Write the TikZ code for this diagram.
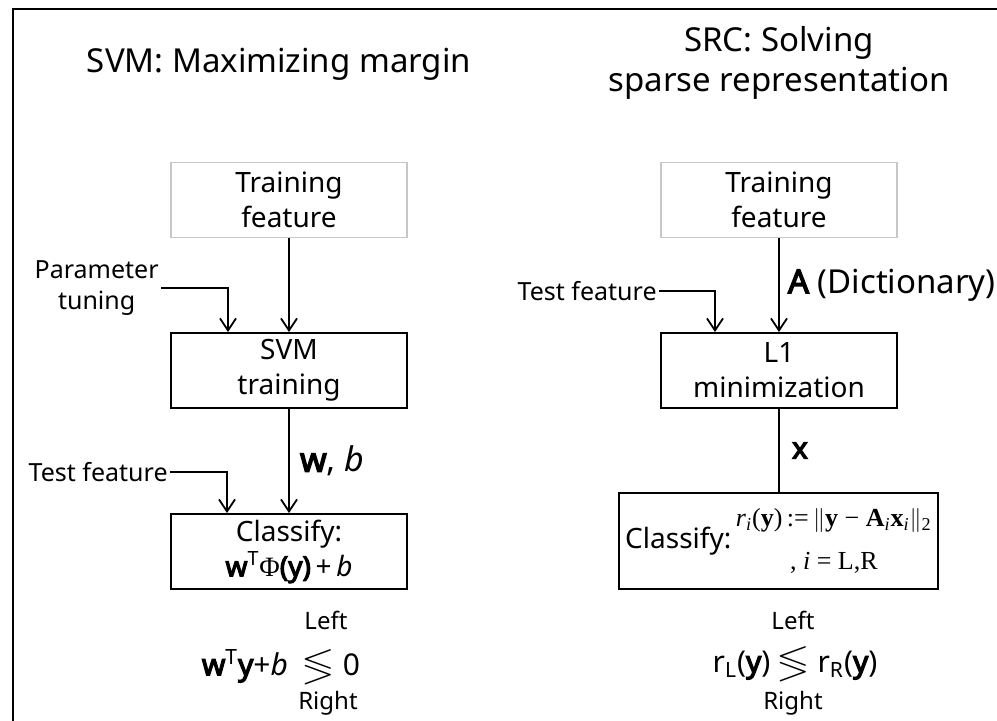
\documentclass[tikz,border=0pt]{standalone}
\usepackage{amssymb}
\usepackage{fontspec}
\setmainfont{Noto Sans}[AutoFakeBold=4]
\newfontfamily\serifr{Liberation Serif}
\usetikzlibrary{arrows.meta}
\newcommand\fsz[2]{\fontsize{#1}{#2}\selectfont}
\begin{document}
\begin{tikzpicture}[x=0.5pt,y=-0.5pt,
  box/.style={draw,line width=1pt,minimum width=118pt,minimum height=37.5pt,align=center,inner sep=0pt,font=\fsz{14pt}{17.5pt}},
  tbox/.style={box,draw=black!22,line width=0.6pt},
  lab/.style={inner sep=1pt,align=center,font=\fsz{12.5pt}{15.5pt}},
  conn/.style={line width=1pt},
  arr/.style={conn,-{Straight Barb[length=6pt,width=8pt,line width=0.9pt]}},
  title/.style={align=center,font=\fsz{16.5pt}{20pt}},
  small/.style={inner sep=0pt,font=\fsz{12pt}{13pt}},
  big/.style={inner sep=0pt,font=\fsz{15pt}{18pt}}]
\useasboundingbox (0,0) rectangle (997,720);
% frame
\draw[line width=1pt] (13,730) -- (13,9) -- (1010,9);
% titles
\node[title] (t1) at (279,64) {SVM: Maximizing margin};
\node[title] (t2) at (779,63) {SRC: Solving\\sparse representation};
% left column
\node[tbox] (trL) at (289,200) {Training\\feature};
\node[box] (svm) at (289,370.5) {SVM\\training};
\node[box] (clsL) at (289,551.5) {Classify:\\\textbf{w}\textsuperscript{T}{\serifr Φ}\textbf{(y)}\,+\,\textit{b}};
\node[lab,anchor=east] (par) at (161,288) {Parameter\\tuning};
\node[lab,anchor=east] (tfL) at (170,472) {Test feature};
\coordinate (pIn) at ([xshift=-30.5pt]svm.north);
\coordinate (tIn) at ([xshift=-31pt]clsL.north);
\draw[arr] (trL) -- (svm);
\draw[arr] (svm) -- (clsL) node[pos=0.5,anchor=west,inner sep=0pt,xshift=5pt,font=\fsz{17pt}{18pt}] (wb) {\textbf{w}, \textit{b}};
\draw[arr] (par.east) -| (pIn);
\draw[arr] (tfL.east) -| (tIn);
\node[small] (lL) at (326,620) {Left};
\node[big] (fL) at (281,666) {\textbf{w}\textsuperscript{T}\textbf{y}+\textit{b}\ \ \fsz{19pt}{20pt}$\lessgtr$\ \fsz{15pt}{18pt}0};
\node[small] (rL) at (328,703) {Right};
% right column
\node[tbox] (trR) at (779,200) {Training\\feature};
\node[box] (l1) at (779,370.5) {L1\\minimization};
\node[box,minimum width=159.5pt,minimum height=48pt] (clsR) at (778.5,541) {Classify:\,\begin{tabular}[c]{@{}c@{}}{\serifr\fsz{13pt}{15pt}\textit{r}\textsubscript{\textit{i}}(\textbf{y})\,:=\,$\|$\textbf{y} − \textbf{A}\textsubscript{\textit{i}}\textbf{x}\textsubscript{\textit{i}}$\|$\textsubscript{2}}\\[4pt]{\serifr\fsz{13pt}{15pt}, \textit{i} = L,R}\end{tabular}};
\node[lab,anchor=east] (tfR) at (659,291) {Test feature};
\coordinate (lIn) at ([xshift=-32pt]l1.north);
\draw[arr] (trR) -- (l1) node[pos=0.5,anchor=west,inner sep=0pt,xshift=4pt,font=\fsz{16.5pt}{18pt}] (dict) {\textbf{A} (Dictionary)};
\draw[arr] (tfR.east) -| (lIn);
\draw[conn] (l1.south) -- (l1.south |- clsR.north) node[pos=0.5,anchor=west,inner sep=0pt,xshift=6pt,font=\fsz{15pt}{18pt}] (xl) {\textbf{x}};
\node[small] (lR) at (793,620) {Left};
\node[big] (fR) at (795,663) {r\textsubscript{L}(\textbf{y})\ \fsz{19pt}{20pt}$\lessgtr$\ \fsz{15pt}{18pt}r\textsubscript{R}(\textbf{y})};
\node[small] (rR) at (793,703) {Right};
\end{tikzpicture}
\end{document}
